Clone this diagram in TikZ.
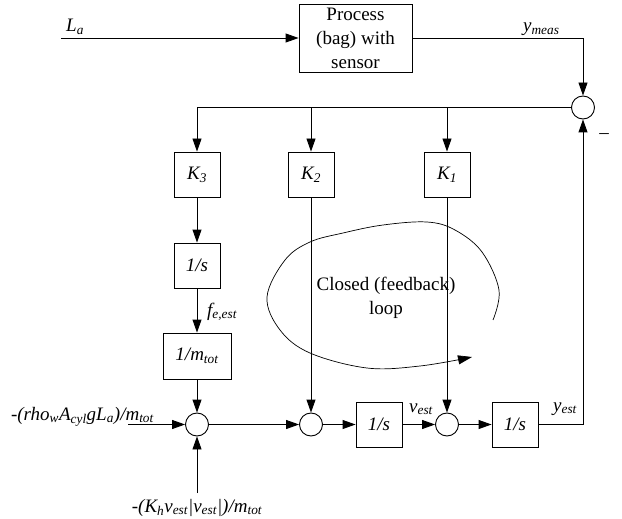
\documentclass[tikz,border=0pt]{standalone}
\usepackage{fontspec}
\setmainfont{Liberation Serif}
\usetikzlibrary{arrows.meta}
\newcommand\sbs[1]{\textsubscript{\itshape #1}}
\begin{document}
\begin{tikzpicture}[x=1pt,y=-1pt,
  blockbox/.style={draw, line width=0.9pt, minimum width=46pt, minimum height=45pt, inner sep=0pt,
    font=\fontsize{19}{22}\selectfont\itshape},
  sumpt/.style={draw, circle, line width=0.9pt, minimum size=23pt, inner sep=0pt},
  wire/.style={line width=0.9pt},
  sig/.style={line width=0.9pt, -{Triangle[length=13pt,width=9pt]}},
  lbl/.style={inner sep=0pt, font=\fontsize{19}{22}\selectfont\itshape},
  bigtxt/.style={align=center, font=\fontsize{19}{24}\selectfont}]
\useasboundingbox (0,0) rectangle (622,519);

% process and measurement comparison
\node[draw, line width=0.9pt, minimum width=113pt, minimum height=68pt, inner sep=0pt, bigtxt] (proc) at (355.5,38) {Process\\(bag) with\\sensor};
\coordinate (Lin) at (61,38);
\node[sumpt] (sumtop) at (583,107.5) {};
\node[lbl, anchor=base west] (La) at (66,32) {L\sbs{a}};
\node[lbl, anchor=base west] (ymeas) at (523,32) {y\sbs{meas}};
\node[inner sep=0pt, font=\fontsize{19}{22}\selectfont] (minus) at (604,136) {–};

% observer gains
\node[blockbox] (K3) at (197,174.5) {K\sbs{3}};
\node[blockbox] (K2) at (311,174.5) {K\sbs{2}};
\node[blockbox] (K1) at (447,174.5) {K\sbs{1}};
\coordinate (br3) at (197,107.5);
\coordinate (br2) at (311,107.5);
\coordinate (br1) at (447,107.5);

% integrator chain
\node[blockbox] (intF) at (197,265.5) {1/s};
\node[blockbox, minimum width=68pt, minimum height=46pt] (invm) at (197,356) {1/m\sbs{tot}};
\node[sumpt] (sum1) at (197,424.5) {};
\node[sumpt] (sum2) at (311,424.5) {};
\node[blockbox] (intV) at (379,424.5) {1/s};
\node[sumpt] (sum3) at (447,424.5) {};
\node[blockbox] (intY) at (515,424.5) {1/s};

% external inputs
\coordinate (rhoin) at (128,424.5);
\coordinate (fricin) at (197,493);
\node[lbl, anchor=base east] (rholbl) at (154,420) {-(rho\sbs{w}A\sbs{cyl}gL\sbs{a})/m\sbs{tot}};
\node[lbl, anchor=base] (friclbl) at (197,512) {-(K\sbs{h}v\sbs{est}|v\sbs{est}|)/m\sbs{tot}};

% signal labels
\node[lbl, anchor=base west] (felbl) at (207,316) {f\sbs{e,est}};
\node[lbl, anchor=base west] (vlbl) at (409,412) {v\sbs{est}};
\node[lbl, anchor=base west] (ylbl) at (553,411) {y\sbs{est}};

% connectors
\draw[sig] (Lin) -- (proc.west);
\draw[sig] (proc.east) -| (sumtop.north);
\draw[wire] (sumtop.west) -- (br3);
\draw[sig] (br3) -- (K3.north);
\draw[sig] (br2) -- (K2.north);
\draw[sig] (br1) -- (K1.north);
\draw[sig] (K3.south) -- (intF.north);
\draw[sig] (intF.south) -- (invm.north);
\draw[sig] (invm.south) -- (sum1.north);
\draw[sig] (K2.south) -- (sum2.north);
\draw[sig] (K1.south) -- (sum3.north);
\draw[sig] (rhoin) -- (sum1.west);
\draw[sig] (fricin) -- (sum1.south);
\draw[sig] (sum1.east) -- (sum2.west);
\draw[sig] (sum2.east) -- (intV.west);
\draw[sig] (intV.east) -- (sum3.west);
\draw[sig] (sum3.east) -- (intY.west);
\draw[sig] (intY.east) -| (sumtop.south);

% feedback loop annotation
\node[bigtxt] (looptxt) at (386,298) {Closed (feedback)\\loop};
\draw[line width=0.7pt, -{Triangle[length=14pt,width=9pt]}]
  plot[smooth, tension=0.6] coordinates {(493,320) (499,290) (482,252) (455,230) (427,222) (383,225) (343,233) (310,242) (285,260) (267,297) (280,330) (310,353) (367,368) (420,366) (472,357)};
\end{tikzpicture}
\end{document}
